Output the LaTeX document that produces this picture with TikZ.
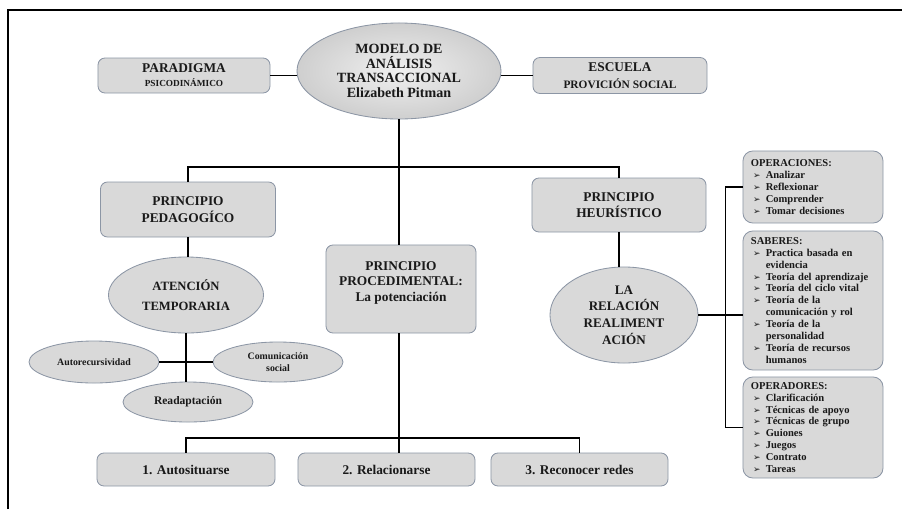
\documentclass[tikz,border=0pt]{standalone}
\usepackage{fontspec}
\setmainfont{Liberation Serif}
\newfontfamily\arrowfont{DejaVu Sans}
\usepackage{xcolor}
\usetikzlibrary{positioning, shapes.geometric}
\definecolor{boxfill}{RGB}{217, 217, 217}
\definecolor{boxline}{RGB}{140, 150, 165}
\definecolor{dark}{RGB}{25, 25, 25}
\newcommand{\itm}{\hspace*{1.5pt}\makebox[9pt][l]{{\arrowfont\fontsize{6.3}{6}\selectfont ➢}}}
\newcommand{\itmgap}{\hspace*{10.5pt}}

\begin{document}
\begin{tikzpicture}[
        x=0.025cm, y=-0.025cm,
        pbox/.style={rectangle, rounded corners=5pt, draw=boxline, fill=boxfill, line width=0.6pt, align=center, text=dark, font=\bfseries\fontsize{9.5}{11.8}\selectfont},
        listbox/.style={rectangle, rounded corners=7pt, draw=boxline, fill=boxfill, line width=0.6pt, align=left, text=dark, text width=3.1cm, inner xsep=0.2cm, minimum width=3.5cm, font=\bfseries\fontsize{7.5}{8.5}\selectfont},
        oval/.style={ellipse, draw=boxline, fill=boxfill, line width=0.6pt, align=center, inner sep=0pt, text=dark, font=\bfseries\fontsize{9.3}{11.8}\selectfont},
        link/.style={line width=1.2pt, black}
    ]
    \useasboundingbox (0,0) rectangle (902,509);

    % frame
    \draw[line width=1.4pt] (8,509) -- (8,10) -- (902,10);

    % top row
    \node (modelo) [oval, inner color=gray!12, outer color=gray!38, minimum width=5.1cm, minimum height=2.4cm, font=\bfseries\fontsize{10}{10.5}\selectfont] at (399,71) {MODELO DE\\ANÁLISIS\\TRANSACCIONAL\\Elizabeth Pitman};
    \node (paradigma) [pbox, minimum width=4.3cm, minimum height=0.875cm] at (184,75.5) {PARADIGMA\\[-2pt]{\fontsize{6.6}{7}\selectfont PSICODINÁMICO}};
    \node (escuela) [pbox, minimum width=4.35cm, minimum height=0.9cm] at (620,75.5) {ESCUELA\\{\fontsize{8.1}{9}\selectfont PROVICIÓN SOCIAL}};

    % principios
    \node (pedag) [pbox, minimum width=4.375cm, minimum height=1.375cm] at (188,209.5) {PRINCIPIO\\PEDAGOGÍCO};
    \node (heur) [pbox, minimum width=4.35cm, minimum height=1.35cm] at (619,205) {PRINCIPIO\\HEURÍSTICO};
    \node (proc) [pbox, minimum width=3.75cm, minimum height=2.2cm,
        label={[anchor=north, yshift=-0.3cm, align=center, text=dark, font=\bfseries\fontsize{9.5}{11}\selectfont]above:{PRINCIPIO\\PROCEDIMENTAL:\\La potenciación}}] at (401,289) {};

    % atencion temporaria
    \node (atencion) [oval, minimum width=3.875cm, minimum height=1.9cm, font=\bfseries\fontsize{9}{14}\selectfont] at (186,295) {ATENCIÓN\\TEMPORARIA};
    \node (autor) [oval, minimum width=3.25cm, minimum height=1.05cm, font=\bfseries\fontsize{7}{8.3}\selectfont] at (94,362) {Autorecursividad};
    \node (comun) [oval, minimum width=3.25cm, minimum height=1cm, font=\bfseries\fontsize{7}{8.3}\selectfont] at (278,362) {Comunicación\\social};
    \node (readapt) [oval, minimum width=3.25cm, minimum height=1cm, font=\bfseries\fontsize{8.2}{9}\selectfont] at (188,402) {Readaptación};

    % realimentacion
    \node (relacion) [oval, minimum width=3.7cm, minimum height=2.4cm] at (624,315) {LA\\RELACIÓN\\REALIMENT\\ACIÓN};
    \node (oper) [listbox, minimum height=1.8cm] at (813,187) {OPERACIONES:\\ \itm Analizar\\ \itm Reflexionar\\ \itm Comprender\\ \itm Tomar decisiones};
    \node (saberes) [listbox, minimum height=3.475cm] at (813,300.5) {SABERES:\\ \itm Practica basada en\\ \itmgap evidencia\\ \itm Teoría del aprendizaje\\ \itm Teoría del ciclo vital\\ \itm Teoría de la\\ \itmgap comunicación y rol\\ \itm Teoría de la\\ \itmgap personalidad\\ \itm Teoría de recursos\\ \itmgap humanos};
    \node (operad) [listbox, minimum height=2.525cm] at (813,427.5) {OPERADORES:\\ \itm Clarificación\\ \itm Técnicas de apoyo\\ \itm Técnicas de grupo\\ \itm Guiones\\ \itm Juegos\\ \itm Contrato\\ \itm Tareas};

    % pasos
    \node (auto) [pbox, minimum width=4.45cm, minimum height=0.825cm] at (186,469.5) {1. Autosituarse};
    \node (rel) [pbox, minimum width=4.425cm, minimum height=0.825cm] at (386.5,469.5) {2. Relacionarse};
    \node (redes) [pbox, minimum width=4.425cm, minimum height=0.825cm] at (579.5,469.5) {3. Reconocer redes};

    % connectors
    \coordinate (split) at (399,167);
    \coordinate (low) at (399,438);
    \draw[link] (paradigma.east) -- (paradigma.east -| modelo.west);
    \draw[link] (escuela.west) -- (escuela.west -| modelo.east);
    \draw[link] (modelo.south) -- (modelo.south |- proc.north);
    \draw[link] (pedag.north) |- (split) -| (heur.north);
    \draw[link] (pedag.south) -- (pedag.south |- atencion.north);
    \draw[link] (atencion.south) -- (atencion.south |- readapt.north);
    \draw[link] (autor.east) -- (comun.west);
    \draw[link] (heur.south) -- (heur.south |- relacion.north);
    \draw[link] (relacion.east) -- (relacion.east -| saberes.west);
    \draw[link] (oper.west) -- ++(-17,0) |- (operad.west);
    \draw[link] (modelo.south |- proc.south) -- (modelo.south |- rel.north);
    \draw[link] (auto.north) |- (low) -| (redes.north);
\end{tikzpicture}
\end{document}
